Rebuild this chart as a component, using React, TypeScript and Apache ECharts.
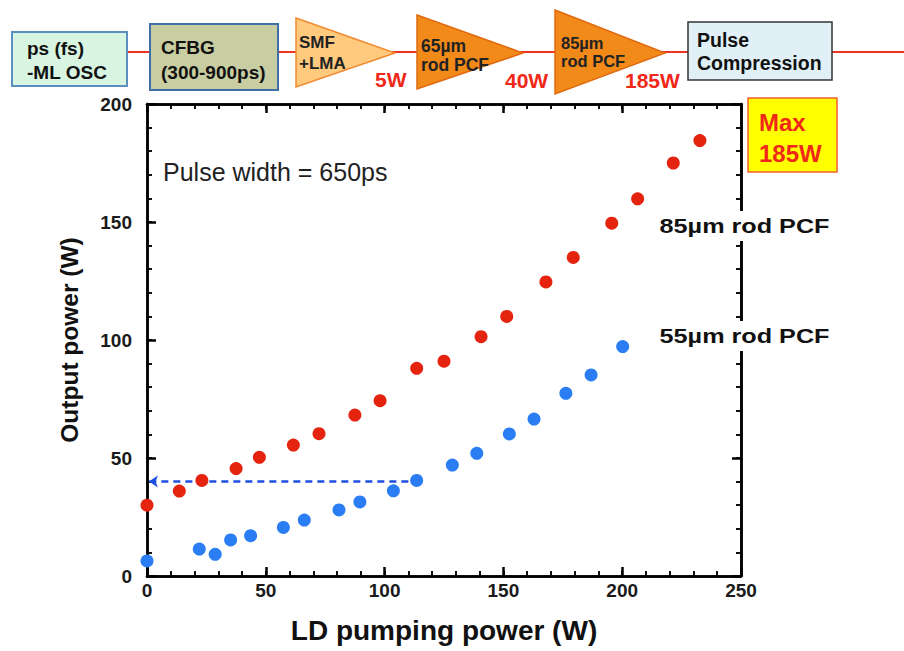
import React, { useEffect, useRef } from "react";
import * as echarts from "echarts";

const redX = [0, 13.6, 23.1, 37.5, 47.3, 61.6, 72.4, 87.5, 98.1, 113.5, 125, 140.6, 151.4, 167.9, 179.4, 195.6, 206.5, 221.5, 232.7];
const redY = [30, 36, 40.5, 45.5, 50.3, 55.5, 60.3, 68.2, 74.3, 88, 91, 101.4, 110, 124.6, 135, 149.5, 159.8, 175, 184.5];
const blueX = [0, 22, 28.7, 35.2, 43.6, 57.4, 66.2, 80.8, 89.6, 103.7, 113.5, 128.5, 138.8, 152.5, 162.9, 176.3, 186.9, 200.2];
const blueY = [6.4, 11.4, 9.2, 15.3, 17.1, 20.6, 23.7, 28, 31.4, 36.1, 40.5, 47, 52, 60.2, 66.5, 77.4, 85.2, 97.2];
const arrowFrom = [110, 40];
const arrowTo = [0.8, 40];
const xMax = 250;
const yMax = 200;
const majorStep = 50;
const minorStep = 10;

const FONT = "'Liberation Sans', Arial, Helvetica, sans-serif";

export default function App() {
  const ref = useRef<HTMLDivElement>(null);
  useEffect(() => {
    const chart = echarts.init(ref.current!, null, { renderer: "svg" });
    const major = (max: number) => ({
      type: "value",
      min: 0,
      max,
      interval: majorStep,
      axisLine: { show: true, onZero: false, lineStyle: { color: "#000", width: 2.5 } },
      axisTick: { show: true, inside: true, length: 9, lineStyle: { color: "#000", width: 2.5 } },
      splitLine: { show: false },
      z: 3,
    });
    const minor = (max: number, position: string) => ({
      type: "value",
      min: 0,
      max,
      interval: minorStep,
      position,
      axisLine: { show: true, onZero: false, lineStyle: { color: "#000", width: 2.5 } },
      axisTick: { show: true, inside: true, length: 5, lineStyle: { color: "#111", width: 2 } },
      axisLabel: { show: false },
      splitLine: { show: false },
      z: 2,
    });
    const tickLabel = { fontFamily: FONT, fontWeight: "bold", fontSize: 19, color: "#1a1a1a" };
    const txt = (x: number, y: number, text: string, size: number, lineHeight: number, fill = "#111", extra: any = {}) => ({
      type: "text",
      x,
      y,
      z: 10,
      ...extra,
      style: { text, fill, font: `bold ${size}px ${FONT}`, lineHeight, verticalAlign: "top", ...(extra.style || {}) },
    });
    const graphic: any[] = [
      { type: "line", shape: { x1: 12, y1: 52, x2: 904, y2: 52 }, style: { stroke: "#ee3322", lineWidth: 2 }, z: 1 },
      { type: "rect", shape: { x: 12, y: 32, width: 115, height: 54 }, style: { fill: "#d8f5e2", stroke: "#5b8fc0", lineWidth: 2 }, z: 2 },
      txt(27, 36, "ps (fs)\n-ML OSC", 19, 24),
      { type: "rect", shape: { x: 150, y: 24, width: 128, height: 66 }, style: { fill: "#c8cda2", stroke: "#3d70a8", lineWidth: 2 }, z: 2 },
      txt(161, 34.5, "CFBG\n(300-900ps)", 19, 25),
      { type: "polygon", shape: { points: [[296, 18], [395, 53], [296, 87]] }, style: { fill: "#ffc97e", stroke: "#f08a30", lineWidth: 1.5 }, z: 2 },
      txt(299, 32.5, "SMF\n+LMA", 17, 20.5, "#222"),
      txt(375, 68.5, "5W", 21, 21, "#f02818"),
      { type: "polygon", shape: { points: [[417, 15], [523, 53], [417, 89]] }, style: { fill: "#f28a1a", stroke: "#e06a10", lineWidth: 1.5 }, z: 2 },
      txt(421, 36.5, "65µm\nrod PCF", 17.5, 19, "#222"),
      txt(505, 69.5, "40W", 21, 21, "#f02818"),
      { type: "polygon", shape: { points: [[555, 10], [665, 53], [555, 94]] }, style: { fill: "#f28a1a", stroke: "#e06a10", lineWidth: 1.5 }, z: 2 },
      txt(561, 33.5, "85µm\nrod PCF", 16.5, 18.5, "#222"),
      txt(625, 69.5, "185W", 21, 21, "#f02818"),
      { type: "rect", shape: { x: 688, y: 22, width: 144, height: 58 }, style: { fill: "#e0f0f6", stroke: "#333", lineWidth: 1.5 }, z: 2 },
      txt(697, 28, "Pulse\nCompression", 19.5, 23.5),
      { type: "rect", shape: { x: 748, y: 98, width: 89, height: 74 }, style: { fill: "#ffff00", stroke: "#f06030", lineWidth: 1.5 }, z: 2 },
      txt(759, 106.5, "Max\n185W", 24, 31, "#f02818"),
      {
        type: "text", x: 163, y: 159, z: 10,
        style: { text: "Pulse width = 650ps", fill: "#222", font: `25px ${FONT}`, verticalAlign: "top", lineHeight: 26 },
      },
      txt(656, 211, "85µm rod PCF", 21, 22, "#111", {
        scaleX: 1.2,
        style: { backgroundColor: "#fff", padding: [4, 3, 4, 3] },
      }),
      txt(656, 321, "55µm rod PCF", 21, 22, "#111", {
        scaleX: 1.2,
        style: { backgroundColor: "#fff", padding: [4, 3, 4, 3] },
      }),
    ];
    chart.setOption({
      animation: false,
      backgroundColor: "#fff",
      grid: { left: 147, right: 163, top: 104, bottom: 75, containLabel: false },
      xAxis: [
        {
          ...major(xMax), position: "bottom",
          axisLabel: { ...tickLabel, margin: 5 },
          name: "LD pumping power (W)", nameLocation: "middle", nameGap: 40,
          nameTextStyle: { fontFamily: FONT, fontWeight: "bold", fontSize: 28, color: "#111" },
        },
        { ...major(xMax), position: "top", axisLabel: { show: false } },
        minor(xMax, "bottom"),
        minor(xMax, "top"),
      ],
      yAxis: [
        {
          ...major(yMax), position: "left",
          axisLabel: { ...tickLabel, margin: 15 },
          name: "Output power (W)", nameLocation: "middle", nameGap: 65,
          nameTextStyle: { fontFamily: FONT, fontWeight: "bold", fontSize: 24.5, color: "#111" },
        },
        { ...major(yMax), position: "right", axisLabel: { show: false } },
        minor(yMax, "left"),
        minor(yMax, "right"),
      ],
      series: [
        {
          type: "scatter", name: "85µm rod PCF", symbolSize: 13,
          xAxisIndex: 0, yAxisIndex: 0,
          itemStyle: { color: "#e52410", opacity: 1 },
          data: redX.map((x, i) => [x, redY[i]]),
          z: 5,
        },
        {
          type: "scatter", name: "55µm rod PCF", symbolSize: 13,
          xAxisIndex: 0, yAxisIndex: 0,
          itemStyle: { color: "#2a7df2", opacity: 1 },
          data: blueX.map((x, i) => [x, blueY[i]]),
          z: 5,
          markLine: {
            silent: true,
            symbol: ["none", "arrow"],
            symbolSize: [9, 9],
            label: { show: false },
            lineStyle: { color: "#1f4fe0", type: [7, 5], width: 2.5 },
            data: [[{ coord: arrowFrom }, { coord: arrowTo }]],
            z: 4,
          },
        },
      ],
      graphic,
    });
    return () => chart.dispose();
  }, []);
  return <div ref={ref} style={{ width: 904, height: 651, position: "absolute", left: 0, top: 0 }} />;
}
